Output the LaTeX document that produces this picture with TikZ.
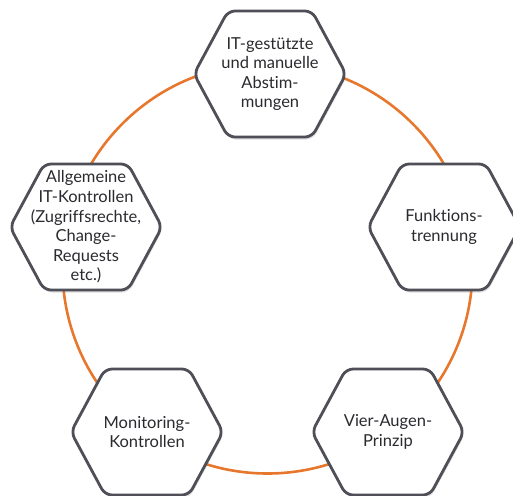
\documentclass[tikz,border=0pt]{standalone}
\usepackage{fontspec}
\setmainfont{Lato}[Ligatures={NoCommon}]
\usetikzlibrary{shadows}
\definecolor{ringorange}{HTML}{E8772E}
\definecolor{hexgray}{HTML}{4E4F57}
\definecolor{textgray}{HTML}{2A2A2F}
\tikzset{
  hexbox/.style={draw=hexgray, line width=2.8pt, fill=white, rounded corners=7pt, line join=round,
    drop shadow={shadow xshift=1pt, shadow yshift=-2.5pt, opacity=0.22, fill=black!60}},
  hextext/.style={text=textgray, align=center, font=\fontsize{16.5}{19.6}\selectfont, inner sep=0pt},
  ring/.style={draw=ringorange, line width=2.6pt}
}
\newcommand{\hexnode}[4]{%
  \draw[hexbox] (#1-76,#2) -- (#1-42,#2-63) -- (#1+42,#2-63) -- (#1+76,#2) -- (#1+42,#2+63) -- (#1-42,#2+63) -- cycle;
  \node[hextext] (#3) at (#1,#2) {#4};}
\begin{document}
\begin{tikzpicture}[x=1pt,y=-1pt]
\useasboundingbox (0,0) rectangle (513,495);
\coordinate (ctr) at (267.5,268.5);
\draw[ring] (ctr) circle[radius=205];
\hexnode{270}{74}{top}{IT-gestützte\\und manuelle\\Abstim-\\mungen}
\hexnode{86}{227}{left}{Allgemeine\\IT-Kontrollen\\(Zugriffsrechte,\\Change-\\Requests\\etc.)}
\hexnode{444}{227}{right}{Funktions-\\trennung}
\hexnode{147}{432}{bl}{Monitoring-\\Kontrollen}
\hexnode{388}{432}{br}{Vier-Augen-\\Prinzip}
\end{tikzpicture}
\end{document}
